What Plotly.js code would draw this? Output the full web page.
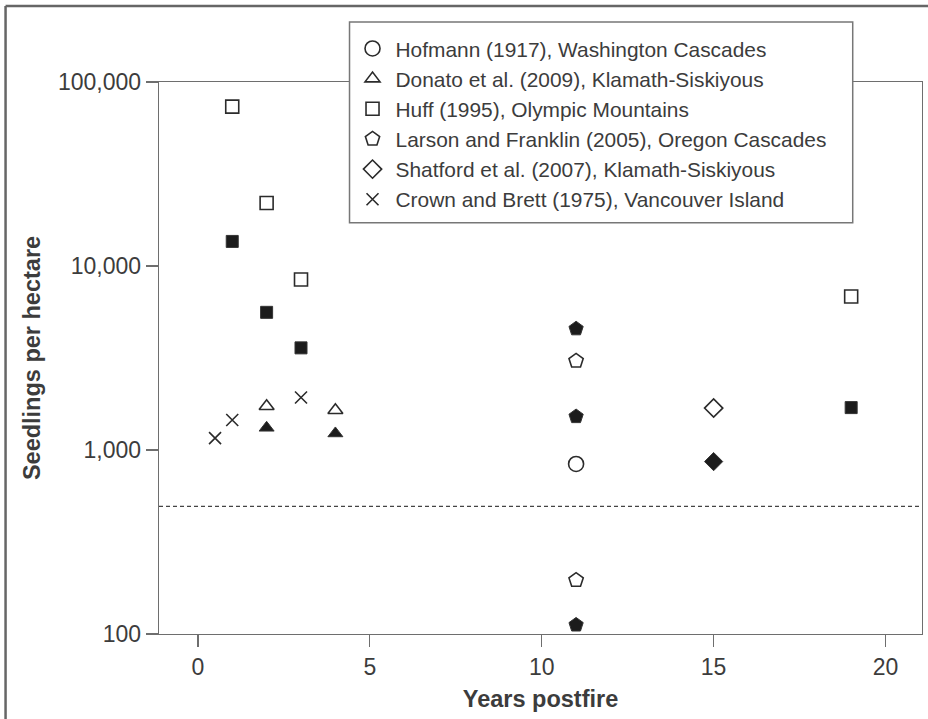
<!DOCTYPE html>
<html>
<head>
<meta charset="utf-8">
<script src="https://cdn.plot.ly/plotly-3.0.1.min.js"></script>
<style>
  html, body { margin: 0; padding: 0; background: #ffffff; }
  #chart { width: 928px; height: 719px; }
</style>
</head>
<body>
<div id="chart"></div>
<script>
// Seedling densities (seedlings per hectare) by years since fire
const studyNames = [
  "Hofmann (1917), Washington Cascades",
  "Donato et al. (2009), Klamath-Siskiyous",
  "Huff (1995), Olympic Mountains",
  "Larson and Franklin (2005), Oregon Cascades",
  "Shatford et al. (2007), Klamath-Siskiyous",
  "Crown and Brett (1975), Vancouver Island"
];

// Hofmann (1917)
const hofmannYears = [11];
const hofmannDensity = [840];

// Donato et al. (2009): open and filled symbols
const donatoOpenYears = [2, 4];
const donatoOpenDensity = [1730, 1645];
const donatoFilledYears = [2, 4];
const donatoFilledDensity = [1320, 1230];

// Huff (1995)
const huffOpenYears = [1, 2, 3, 19];
const huffOpenDensity = [73500, 22000, 8450, 6830];
const huffFilledYears = [1, 2, 3, 19];
const huffFilledDensity = [13600, 5600, 3590, 1700];

// Larson and Franklin (2005)
const larsonOpenYears = [11, 11];
const larsonOpenDensity = [3050, 196];
const larsonFilledYears = [11, 11, 11];
const larsonFilledDensity = [4560, 1520, 112];

// Shatford et al. (2007)
const shatfordOpenYears = [15];
const shatfordOpenDensity = [1690];
const shatfordFilledYears = [15];
const shatfordFilledDensity = [865];

// Crown and Brett (1975)
const crownYears = [0.5, 1, 3];
const crownDensity = [1160, 1455, 1930];

// Reference density shown as a dashed line
const thresholdDensity = 494;

// Axis ticks
const xTickVals = [0, 5, 10, 15, 20];
const yTickVals = [100, 1000, 10000, 100000];
const yTickText = ["100", "1,000", "10,000", "100,000"];

const ink = "#2b2b2b";
const fillInk = "#1c1c1c";
const axisGray = "#6e6e6e";
const textGray = "#3c3c3c";

// Open symbols take their stroke colour from marker.color
function openTrace(name, x, y, symbol, size, lw) {
  return {
    type: "scatter", mode: "markers", name: name, x: x, y: y,
    cliponaxis: false,
    marker: { symbol: symbol, size: size, color: ink,
              line: { color: ink, width: lw } },
    hoverinfo: "x+y"
  };
}
function filledTrace(name, x, y, symbol, size) {
  return {
    type: "scatter", mode: "markers", name: name, x: x, y: y,
    showlegend: false, cliponaxis: false,
    marker: { symbol: symbol, size: size, color: fillInk,
              line: { color: "#333333", width: 1 } },
    hoverinfo: "x+y"
  };
}

const traces = [
  openTrace(studyNames[0], hofmannYears, hofmannDensity, "circle-open", 15, 1.6),
  openTrace(studyNames[1], donatoOpenYears, donatoOpenDensity, "triangle-up-open", 13, 1.6),
  openTrace(studyNames[2], huffOpenYears, huffOpenDensity, "square-open", 13, 1.6),
  openTrace(studyNames[3], larsonOpenYears, larsonOpenDensity, "pentagon-open", 15, 1.6),
  openTrace(studyNames[4], shatfordOpenYears, shatfordOpenDensity, "diamond-open", 14, 1.6),
  openTrace(studyNames[5], crownYears, crownDensity, "x-thin-open", 12, 1.6),
  filledTrace(studyNames[1], donatoFilledYears, donatoFilledDensity, "triangle-up", 13),
  filledTrace(studyNames[2], huffFilledYears, huffFilledDensity, "square", 12),
  filledTrace(studyNames[3], larsonFilledYears, larsonFilledDensity, "pentagon", 15),
  filledTrace(studyNames[4], shatfordFilledYears, shatfordFilledDensity, "diamond", 14)
];

const layout = {
  width: 928, height: 719,
  margin: { l: 159, r: 6.3, t: 81.7, b: 84.7 },
  paper_bgcolor: "#ffffff",
  plot_bgcolor: "#ffffff",
  font: { family: "Liberation Sans, Arial, sans-serif", color: textGray, size: 23 },
  showlegend: true,
  legend: {
    x: 0.2497, y: 1.0972, xanchor: "left", yanchor: "top",
    bgcolor: "rgba(0,0,0,0)", borderwidth: 0,
    itemwidth: 36,
    font: { family: "Liberation Sans, Arial, sans-serif", size: 20.9, color: textGray },
    traceorder: "normal"
  },
  xaxis: {
    range: [-1.13, 21.06],
    tickvals: xTickVals,
    ticks: "outside", ticklen: 12, tickwidth: 1.3, tickcolor: axisGray,
    showline: true, linecolor: axisGray, linewidth: 1.3, mirror: true,
    showgrid: false, zeroline: false,
    tickfont: { size: 23, color: textGray },
    title: { text: "Years postfire", font: { size: 23.5, color: textGray, weight: "bold" }, standoff: 11 }
  },
  yaxis: {
    type: "log",
    range: [2, 5],
    tickvals: yTickVals, ticktext: yTickText,
    ticks: "outside", ticklen: 12, tickwidth: 1.3, tickcolor: axisGray,
    showline: true, linecolor: axisGray, linewidth: 1.3, mirror: true,
    showgrid: false, zeroline: false,
    tickfont: { size: 23, color: textGray },
    title: { text: "Seedlings per hectare", font: { size: 23.5, color: textGray, weight: "bold" }, standoff: 10 }
  },
  shapes: [
    { type: "line", xref: "paper", x0: 0, x1: 1, yref: "y", y0: thresholdDensity, y1: thresholdDensity,
      line: { color: "#444444", width: 1.4, dash: "4px,3px" } },
    // white key panel behind the legend entries
    { type: "rect", layer: "above", xref: "paper", yref: "paper",
      x0: 0.2497, x1: 0.9092, y0: 0.7449, y1: 1.1086,
      fillcolor: "#ffffff", line: { color: "#777777", width: 1.5 } },
    // figure frame along the left and top edges
    { type: "line", xref: "paper", yref: "paper", x0: -0.2011, x1: -0.2011, y0: -0.16, y1: 1.1375,
      line: { color: "#666666", width: 2.5 } },
    { type: "line", xref: "paper", yref: "paper", x0: -0.2011, x1: 1.02, y0: 1.1375, y1: 1.1375,
      line: { color: "#666666", width: 2.5 } }
  ]
};

Plotly.newPlot("chart", traces, layout, { displayModeBar: false, staticPlot: true });
</script>
</body>
</html>
